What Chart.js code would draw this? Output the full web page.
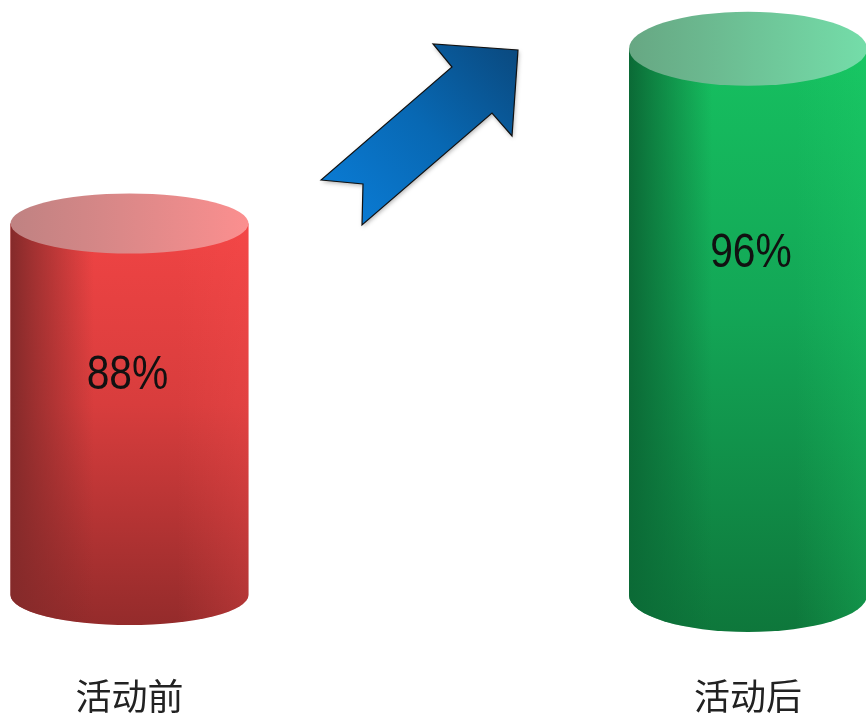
<!DOCTYPE html>
<html>
<head>
<meta charset="utf-8">
<script src="https://cdn.jsdelivr.net/npm/chart.js"></script>
<style>
  html, body { margin: 0; padding: 0; background: #fff; overflow: hidden; }
  #wrap { width: 866px; height: 720px; }
</style>
</head>
<body>
<div id="wrap"><canvas id="activity"></canvas></div>
<script>
// before / after activity
const categories = ['活动前', '活动后'];
const rates = [88, 96];
const rateLabels = ['88%', '96%'];
const axisMin = 71;
const axisMax = 98;

// cylinder looks, one entry per bar
const looks = [
  { down: ['#f04444', '#d83d3d', '#942b2b'], edge: '132,42,42', shine: '255,80,80', top: ['#bf8282', '#fb8f8f'], ry: 30, textDx: -2, textOff: 152 },
  { down: ['#16c060', '#13a656', '#0e773b'], edge: '11,106,54', shine: '30,220,110', top: ['#67a783', '#74dda9'], ry: 37, textDx: 3, textOff: 205 }
];

function drawCylinder(ctx, x, top, base, rx, lk) {
  const ry = lk.ry;
  const body = () => {
    ctx.beginPath();
    ctx.moveTo(x - rx, top);
    ctx.lineTo(x - rx, base);
    ctx.ellipse(x, base, rx, ry, 0, Math.PI, 0, true);
    ctx.lineTo(x + rx, top);
    ctx.closePath();
  };
  // main colour, darker going down
  let v = ctx.createLinearGradient(0, top, 0, base + ry);
  v.addColorStop(0, lk.down[0]);
  v.addColorStop(0.45, lk.down[1]);
  v.addColorStop(1, lk.down[2]);
  body();
  ctx.fillStyle = v;
  ctx.fill();
  // dark left edge, light right edge
  let h = ctx.createLinearGradient(x - rx, 0, x + rx, 0);
  h.addColorStop(0, 'rgba(' + lk.edge + ',1)');
  h.addColorStop(0.1, 'rgba(' + lk.edge + ',0.7)');
  h.addColorStop(0.35, 'rgba(' + lk.edge + ',0)');
  h.addColorStop(0.7, 'rgba(' + lk.shine + ',0)');
  h.addColorStop(1, 'rgba(' + lk.shine + ',0.25)');
  body();
  ctx.fillStyle = h;
  ctx.fill();
  // top face
  let t = ctx.createLinearGradient(x - rx, 0, x + rx, 0);
  t.addColorStop(0, lk.top[0]);
  t.addColorStop(1, lk.top[1]);
  ctx.beginPath();
  ctx.ellipse(x, top, rx, ry, 0, 0, Math.PI * 2);
  ctx.fillStyle = t;
  ctx.fill();
}

const cylinders = {
  id: 'cylinders',
  afterDatasetsDraw(chart) {
    const ctx = chart.ctx;
    const meta = chart.getDatasetMeta(0);
    meta.data.forEach((bar, i) => {
      const p = bar.getProps(['x', 'y', 'base', 'width'], true);
      ctx.save();
      drawCylinder(ctx, p.x, p.y, p.base, p.width / 2, looks[i]);
      // value label, a bit narrow like the original font
      ctx.translate(p.x + looks[i].textDx, p.y + looks[i].textOff);
      ctx.scale(0.85, 1);
      ctx.fillStyle = '#111';
      ctx.font = "48px 'Liberation Sans', sans-serif";
      ctx.textAlign = 'center';
      ctx.textBaseline = 'middle';
      ctx.fillText(rateLabels[i], 0, 0);
      ctx.restore();
    });
  }
};

// the "up" arrow between the two bars
const upArrow = {
  id: 'upArrow',
  afterDraw(chart) {
    const ctx = chart.ctx;
    const pts = [[321, 180], [363, 184], [362, 225], [492, 113], [512, 136], [518, 50], [433, 44], [452, 67]];
    ctx.save();
    ctx.beginPath();
    pts.forEach((q, i) => i ? ctx.lineTo(q[0], q[1]) : ctx.moveTo(q[0], q[1]));
    ctx.closePath();
    const g = ctx.createLinearGradient(340, 210, 515, 50);
    g.addColorStop(0, '#0a7bd4');
    g.addColorStop(0.5, '#0868b3');
    g.addColorStop(1, '#0a4a80');
    ctx.shadowColor = 'rgba(0,0,0,0.3)';
    ctx.shadowBlur = 4;
    ctx.shadowOffsetX = 1;
    ctx.shadowOffsetY = 2;
    ctx.fillStyle = g;
    ctx.fill();
    ctx.shadowColor = 'rgba(0,0,0,0)';
    ctx.lineWidth = 1.2;
    ctx.strokeStyle = '#111';
    ctx.stroke();
    ctx.restore();
  }
};

const actx = document.getElementById('activity').getContext('2d');
const activityChart = new Chart(actx, {
  type: 'bar',
  data: {
    labels: categories,
    datasets: [{
      label: '满意度',
      data: rates,
      base: axisMin,
      backgroundColor: 'rgba(0,0,0,0)',
      barThickness: 238
    }]
  },
  options: {
    responsive: true,
    maintainAspectRatio: false,
    animation: false,
    layout: { padding: { left: 129.5, right: 118, top: 5, bottom: 0 } },
    plugins: {
      legend: { display: false },
      tooltip: { enabled: false }
    },
    scales: {
      x: {
        offset: false,
        // invisible tick marks push the labels down without widening the sides
        grid: { display: true, color: 'rgba(0,0,0,0)', drawOnChartArea: false, drawTicks: true, tickLength: 80 },
        border: { display: false },
        ticks: {
          padding: 0,
          maxRotation: 0,
          autoSkip: false,
          color: '#222',
          font: { family: "'Noto Sans CJK SC', sans-serif", size: 36 }
        },
        afterFit(s) { s.height = 125; }
      },
      y: { display: false, min: axisMin, max: axisMax }
    }
  },
  plugins: [cylinders, upArrow]
});
</script>
</body>
</html>
